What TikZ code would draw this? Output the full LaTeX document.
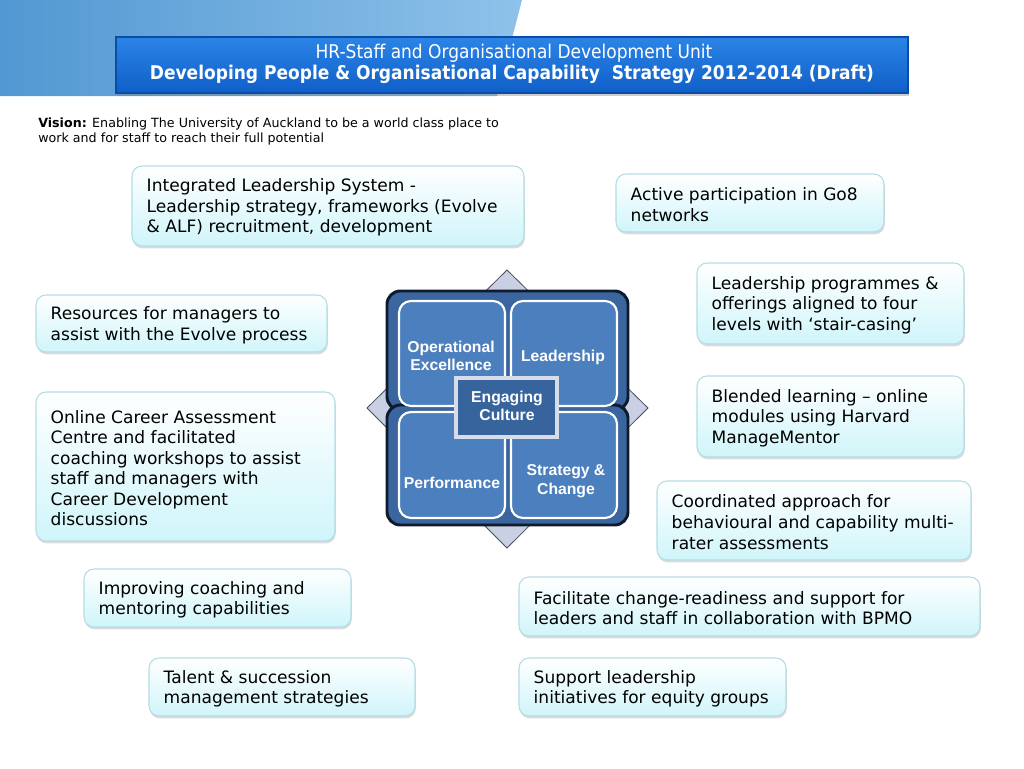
\documentclass[tikz,border=0pt]{standalone}
\usepackage{fontspec}
\setmainfont{DejaVu Sans}
\newfontfamily\arialf{Liberation Sans}
\newfontfamily\titlef{DejaVu Sans Condensed}
\usetikzlibrary{shadows,fit}
\definecolor{skyA}{HTML}{5298D2}
\definecolor{skyB}{HTML}{8EC2EA}
\definecolor{bannerTop}{HTML}{2C84E6}
\definecolor{bannerBot}{HTML}{0F5FC8}
\definecolor{bannerEdge}{HTML}{0B4DA6}
\definecolor{boxTop}{HTML}{FFFFFF}
\definecolor{boxBot}{HTML}{CFF5FA}
\definecolor{boxEdge}{HTML}{B5DCE4}
\definecolor{frameFill}{HTML}{3A659F}
\definecolor{frameEdge}{HTML}{0F1B2D}
\definecolor{quadFill}{HTML}{4C7FBE}
\definecolor{centreFill}{HTML}{38649E}
\definecolor{centreEdge}{HTML}{D6DCE8}
\definecolor{diamFill}{HTML}{C9D0E3}
\definecolor{diamEdge}{HTML}{4A4E5A}
\tikzset{
  tb/.style={draw=boxEdge, line width=0.8pt, rounded corners=7.5pt,
    top color=boxTop, bottom color=boxBot, inner sep=0pt,
    drop shadow={shadow xshift=0.6pt, shadow yshift=-1.8pt, opacity=0.35, fill=gray!80}},
  tt/.style={anchor=west, align=left, inner sep=0pt, text=black, yshift=-1.2pt,
    font=\fontsize{12.8}{15.4}\selectfont},
  frame/.style={draw=frameEdge, line width=2.2pt, fill=frameFill, rounded corners=10pt},
  quad/.style={draw=white, line width=1.6pt, fill=quadFill, rounded corners=9pt},
  qt/.style={align=center, text=white, inner sep=0pt, font=\arialf\bfseries\fontsize{11.8}{13.8}\selectfont},
}
\begin{document}
\begin{tikzpicture}[x=0.75pt,y=-0.75pt]
\useasboundingbox (0,0) rectangle (1024,768);
% sky background
\shade[left color=skyA, right color=skyB] (0,0) -- (522,0) -- (497,96) -- (0,96) -- cycle;
% banner
\node (banner) [fit={(116,37) (908,93)}, inner sep=0pt, draw=bannerEdge, line width=0.8pt,
  top color=bannerTop, bottom color=bannerBot,
  drop shadow={shadow xshift=1pt, shadow yshift=-2pt, opacity=0.4}] {};
\node (t1) [text=white, font=\titlef\fontsize{14.2}{16}\selectfont, inner sep=0pt] at (514,53) {HR-Staff and Organisational Development Unit};
\node (t2) [text=white, font=\titlef\bfseries\fontsize{14.2}{16}\selectfont, inner sep=0pt] at (512,74) {Developing People \& Organisational Capability\ \ Strategy 2012-2014 (Draft)};
% vision
\node (vision) [anchor=north west, align=left, inner sep=0pt, font=\fontsize{9.5}{11.3}\selectfont] at (38,117.5)
  {\textbf{Vision:} Enabling The University of Auckland to be a world class place to\\work and for staff to reach their full potential};
% centre graphic
\draw[fill=diamFill, draw=diamEdge, line width=0.6pt] (507,270) -- (648,408) -- (507,548) -- (367,408) -- cycle;
\draw[frame] (387,291) rectangle (628,410);
\draw[frame] (387,405) rectangle (628,525);
\node (oe) [quad, fit={(399,301) (505,406)}, inner sep=0pt] {};
\node (ld) [quad, fit={(511,301) (617,406)}, inner sep=0pt] {};
\node (pf) [quad, fit={(399,412) (505,518)}, inner sep=0pt] {};
\node (sc) [quad, fit={(511,412) (617,518)}, inner sep=0pt] {};
\node[qt] at (451,356) {Operational\\Excellence};
\node[qt] at (563,357) {Leadership};
\node[qt] at (452,483) {Performance};
\node[qt] at (566,481) {Strategy \&\\Change};
\node (ec) [fit={(456,378) (557,437)}, inner sep=0pt, fill=centreFill, draw=centreEdge, line width=2.4pt] {};
\node[qt] at (507,406) {Engaging\\Culture};
% boxes
\node (b1) [tb, fit={(132,166) (524,246)}] {};
\node[tt] at ([xshift=11.25pt]b1.west) {Integrated Leadership System -\\Leadership strategy, frameworks (Evolve\\\& ALF) recruitment, development};
\node (b2) [tb, fit={(616,174) (884,232)}] {};
\node[tt] at ([xshift=11.25pt]b2.west) {Active participation in Go8\\networks};
\node (b3) [tb, fit={(697,263) (964,344)}] {};
\node[tt] at ([xshift=11.25pt]b3.west) {Leadership programmes \&\\offerings aligned to four\\levels with `stair-casing'};
\node (b4) [tb, fit={(36,295) (327,352)}] {};
\node[tt] at ([xshift=11.25pt]b4.west) {Resources for managers to\\assist with the Evolve process};
\node (b5) [tb, fit={(36,392) (335,541)}] {};
\node[tt] at ([xshift=11.25pt]b5.west) {Online Career Assessment\\Centre and facilitated\\coaching workshops to assist\\staff and managers with\\Career Development\\discussions};
\node (b6) [tb, fit={(697,376) (964,457)}] {};
\node[tt] at ([xshift=11.25pt]b6.west) {Blended learning – online\\modules using Harvard\\ManageMentor};
\node (b7) [tb, fit={(657,481) (971,560)}] {};
\node[tt] at ([xshift=11.25pt]b7.west) {Coordinated approach for\\behavioural and capability multi-\\rater assessments};
\node (b8) [tb, fit={(84,569) (351,627)}] {};
\node[tt] at ([xshift=11.25pt]b8.west) {Improving coaching and\\mentoring capabilities};
\node (b9) [tb, fit={(519,577) (980,636)}] {};
\node[tt] at ([xshift=11.25pt]b9.west) {Facilitate change-readiness and support for\\leaders and staff in collaboration with BPMO};
\node (b10) [tb, fit={(149,658) (415,716)}] {};
\node[tt] at ([xshift=11.25pt]b10.west) {Talent \& succession\\management strategies};
\node (b11) [tb, fit={(519,658) (786,716)}] {};
\node[tt] at ([xshift=11.25pt]b11.west) {Support leadership\\initiatives for equity groups};
\end{tikzpicture}
\end{document}
